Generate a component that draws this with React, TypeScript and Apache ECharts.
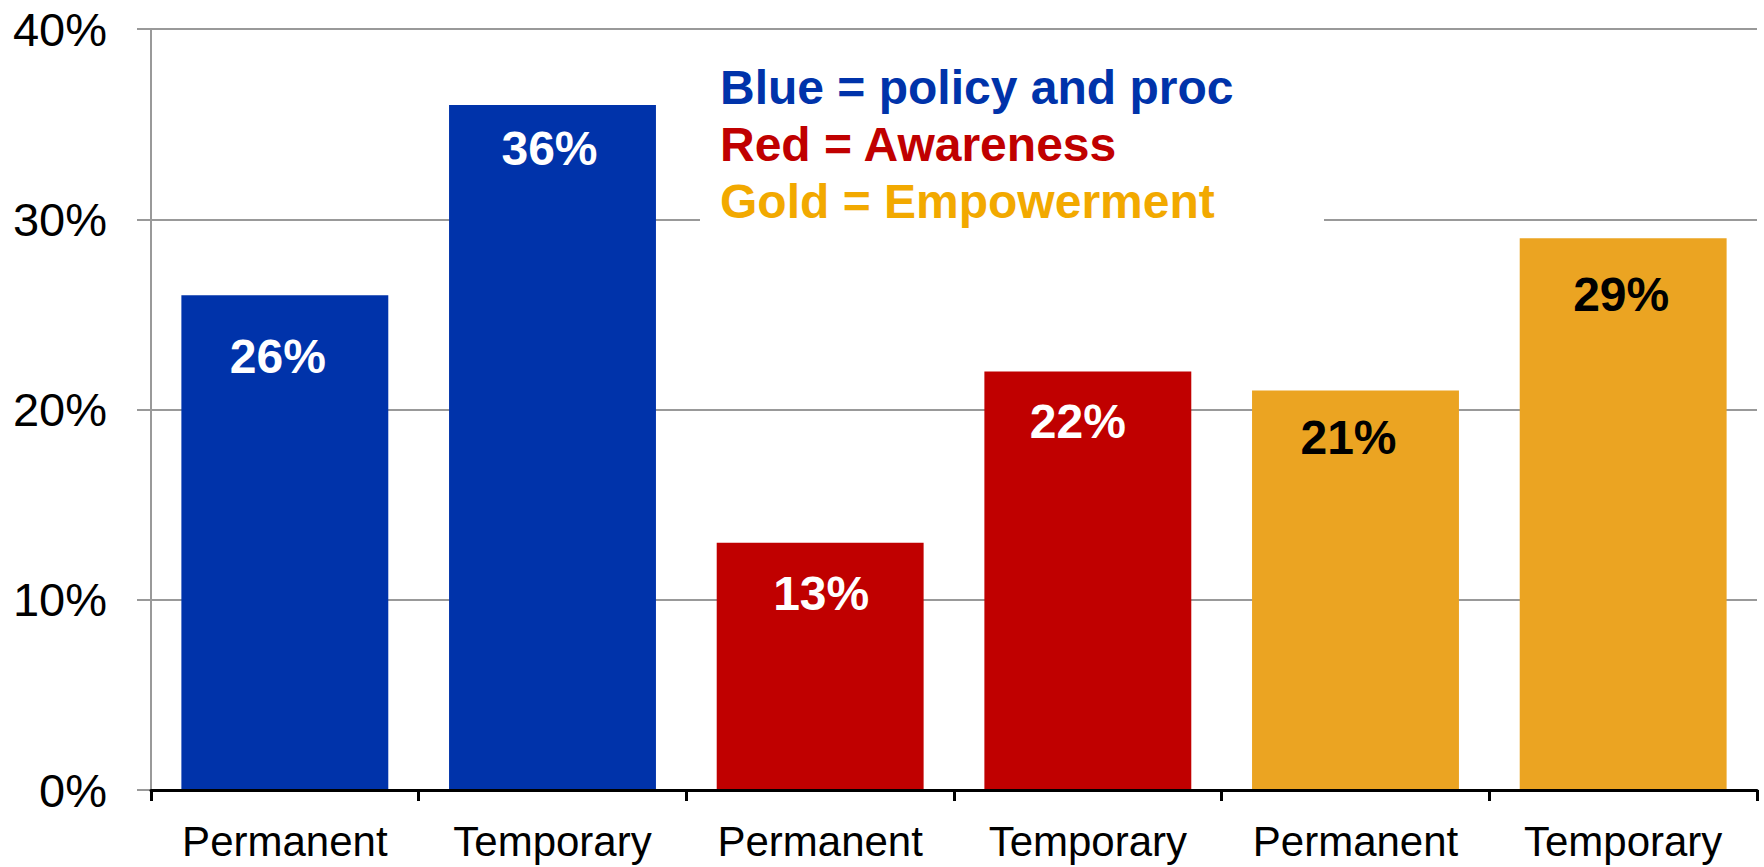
import React, { useEffect, useRef } from "react";
import * as echarts from "echarts";

const categories = ["Permanent", "Temporary", "Permanent", "Temporary", "Permanent", "Temporary"];
const values = [26, 36, 13, 22, 21, 29];
const yTicks = { min: 0, max: 40, interval: 10 };
const notes = ["Blue = policy and proc", "Red = Awareness", "Gold = Empowerment"];

const barColors = ["#0033AA", "#0033AA", "#C00000", "#C00000", "#EBA422", "#EBA422"];
const labelColors = ["#FFFFFF", "#FFFFFF", "#FFFFFF", "#FFFFFF", "#000000", "#000000"];
const labelNudge: [number, number][] = [[-7, 61], [-3, 43], [1, 51], [-10, 50], [-7, 47], [-2, 56]];
const noteColors = ["#0033AA", "#C00000", "#F2A900"];

const FONT = '"Liberation Sans", Arial, Helvetica, sans-serif';

export default function App() {
  const ref = useRef<HTMLDivElement>(null);
  useEffect(() => {
    if (!ref.current) return;
    const chart = echarts.init(ref.current, undefined, { renderer: "svg" });
    chart.setOption({
      animation: false,
      backgroundColor: "#FFFFFF",
      textStyle: { fontFamily: FONT },
      grid: { left: 151, right: 7, top: 29, bottom: 77, containLabel: false },
      xAxis: {
        type: "category",
        data: categories,
        boundaryGap: true,
        axisLine: { show: true, lineStyle: { color: "#000000", width: 3 } },
        axisTick: { show: true, alignWithLabel: false, length: 11, lineStyle: { color: "#000000", width: 3 } },
        axisLabel: { fontSize: 42, color: "#000000", margin: 30, fontFamily: FONT, interval: 0 },
        splitLine: { show: false },
        z: 3,
      },
      yAxis: {
        type: "value",
        min: yTicks.min,
        max: yTicks.max,
        interval: yTicks.interval,
        axisLine: { show: true, lineStyle: { color: "#999999", width: 2 } },
        axisTick: { show: true, length: 14, lineStyle: { color: "#999999", width: 2 } },
        axisLabel: { fontSize: 47, color: "#000000", margin: 44, fontFamily: FONT, formatter: "{value}%" },
        splitLine: { show: true, lineStyle: { color: "#999999", width: 2 } },
      },
      graphic: [
        {
          type: "rect",
          z: 1,
          shape: { x: 700, y: 40, width: 624, height: 190 },
          style: { fill: "#FFFFFF" },
        },
        ...notes.map((t, i) => ({
          type: "text",
          z: 2,
          x: 720,
          y: 87 + i * 57,
          style: {
            text: t,
            fill: noteColors[i],
            font: `bold 48px ${FONT}`,
            textVerticalAlign: "middle",
            verticalAlign: "middle",
          },
        })),
      ],
      series: [
        {
          type: "bar",
          barCategoryGap: "22.7%",
          z: 2,
          data: values.map((v, i) => ({
            value: v,
            itemStyle: { color: barColors[i] },
            label: {
              show: true,
              position: ["50%", labelNudge[i][1]],
              offset: [labelNudge[i][0], 0],
              align: "center",
              verticalAlign: "middle",
              color: labelColors[i],
              fontSize: 48,
              fontWeight: "bold",
              fontFamily: FONT,
              formatter: "{c}%",
            },
          })),
        },
      ],
    });
    return () => chart.dispose();
  }, []);
  return <div ref={ref} style={{ position: "fixed", left: 0, top: 0, width: 1764, height: 867 }} />;
}
